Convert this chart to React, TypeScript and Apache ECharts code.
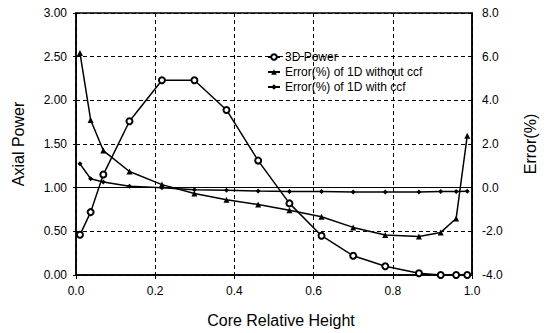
import React, { useEffect, useRef } from "react";
import * as echarts from "echarts";

const heights = [0.01, 0.037, 0.069, 0.135, 0.217, 0.299, 0.38, 0.46, 0.539, 0.62, 0.70, 0.781, 0.866, 0.921, 0.96, 0.988];
const power3D = [0.46, 0.72, 1.15, 1.76, 2.23, 2.23, 1.89, 1.31, 0.82, 0.45, 0.22, 0.10, 0.02, 0.0, 0.0, 0.0];
const errWithoutCcf = [6.17, 3.10, 1.70, 0.74, 0.14, -0.27, -0.55, -0.77, -1.03, -1.33, -1.82, -2.17, -2.24, -2.05, -1.41, 2.38];
const errWithCcf = [1.09, 0.41, 0.26, 0.06, 0.0, -0.1, -0.12, -0.15, -0.17, -0.18, -0.2, -0.2, -0.2, -0.18, -0.17, -0.16];

const seriesNames = ["3D Power", "Error(%) of 1D without ccf", "Error(%) of 1D with ccf"];
const xTitle = "Core Relative Height";
const yLeftTitle = "Axial Power";
const yRightTitle = "Error(%)";

const FONT = "Liberation Sans";

export default function App() {
  const ref = useRef<HTMLDivElement>(null);
  useEffect(() => {
    if (!ref.current) return;
    const chart = echarts.init(ref.current, undefined, { renderer: "svg" });
    const pair = (ys: number[]) => heights.map((x, i) => [x, ys[i]]);
    const dash = { color: "#000", width: 1, type: [4, 3] as number[] };
    chart.setOption({
      animation: false,
      backgroundColor: "#fff",
      textStyle: { fontFamily: FONT, color: "#000" },
      grid: { left: 76, right: 78, top: 13, bottom: 56, show: true, borderColor: "#000", borderWidth: 1.5 },
      legend: {
        orient: "vertical",
        left: 262,
        top: 46,
        itemWidth: 12,
        itemHeight: 7,
        itemGap: 3,
        textStyle: { fontFamily: FONT, fontSize: 12, color: "#000" },
        data: seriesNames,
      },
      xAxis: {
        type: "value",
        min: 0,
        max: 1,
        interval: 0.2,
        name: xTitle,
        nameLocation: "middle",
        nameGap: 37,
        nameTextStyle: { fontFamily: FONT, fontSize: 16, color: "#000", padding: [0, 0, 0, 14] },
        axisLine: { lineStyle: { color: "#000", width: 1.5 } },
        axisTick: { show: true, length: 4, lineStyle: { color: "#000" } },
        axisLabel: { fontFamily: FONT, fontSize: 12, color: "#000", margin: 10, formatter: (v: number) => v.toFixed(1) },
        splitLine: { show: true, lineStyle: dash },
      },
      yAxis: [
        {
          type: "value",
          min: 0,
          max: 3,
          interval: 0.5,
          name: yLeftTitle,
          nameLocation: "middle",
          nameGap: 50,
          nameTextStyle: { fontFamily: FONT, fontSize: 16, color: "#000" },
          axisLine: { show: true, lineStyle: { color: "#000", width: 1.5 } },
          axisTick: { show: true, length: 3, lineStyle: { color: "#000" } },
          axisLabel: { fontFamily: FONT, fontSize: 12, color: "#000", margin: 9, formatter: (v: number) => v.toFixed(2) },
          splitLine: { show: true, lineStyle: dash },
        },
        {
          type: "value",
          min: -4,
          max: 8,
          interval: 2,
          name: yRightTitle,
          nameLocation: "middle",
          nameGap: 50,
          nameRotate: 90,
          nameTextStyle: { fontFamily: FONT, fontSize: 16, color: "#000" },
          axisLine: { show: true, lineStyle: { color: "#000", width: 1.5 } },
          axisTick: { show: false },
          axisLabel: { fontFamily: FONT, fontSize: 12, color: "#000", margin: 10, formatter: (v: number) => v.toFixed(1) },
          splitLine: { show: false },
        },
      ],
      series: [
        {
          name: seriesNames[0],
          type: "line",
          yAxisIndex: 0,
          data: pair(power3D),
          symbol: "emptyCircle",
          symbolSize: 6,
          lineStyle: { color: "#000", width: 1.5 },
          itemStyle: { color: "#000", borderWidth: 1 },
          markLine: {
            silent: true,
            symbol: "none",
            label: { show: false },
            lineStyle: { color: "#000", width: 1.2, type: "solid" },
            data: [{ yAxis: 1 }],
          },
        },
        {
          name: seriesNames[1],
          type: "line",
          yAxisIndex: 1,
          data: pair(errWithoutCcf),
          symbol: "triangle",
          symbolSize: 6,
          lineStyle: { color: "#000", width: 1.5 },
          itemStyle: { color: "#000" },
        },
        {
          name: seriesNames[2],
          type: "line",
          yAxisIndex: 1,
          data: pair(errWithCcf),
          symbol: "diamond",
          symbolSize: 5,
          lineStyle: { color: "#000", width: 1.5 },
          itemStyle: { color: "#000" },
        },
      ],
    });
    return () => chart.dispose();
  }, []);
  return <div ref={ref} style={{ width: 550, height: 333, position: "absolute", left: 0, top: 0 }} />;
}
